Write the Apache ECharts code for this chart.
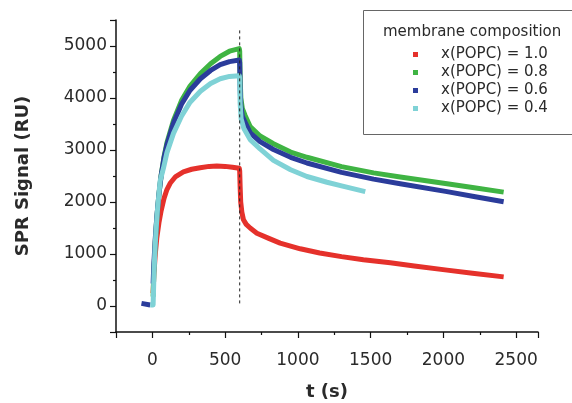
<!DOCTYPE html>
<html>
<head>
<meta charset="utf-8">
<script src="https://cdn.jsdelivr.net/npm/echarts@6/dist/echarts.min.js"></script>
<style>
html,body{margin:0;padding:0;background:#fff;}
#chart{width:572px;height:403px;}
</style>
</head>
<body>
<div id="chart"></div>
<script>
var seriesNames = ['x(POPC) = 1.0', 'x(POPC) = 0.8', 'x(POPC) = 0.6', 'x(POPC) = 0.4'];
var legendTitle = 'membrane composition';
var xTitle = 't (s)';
var yTitle = 'SPR Signal (RU)';

var redT = [5, 10, 20, 30, 45, 60, 80, 100, 122, 160, 213, 270, 328, 390, 443, 500, 550, 597, 600, 603, 607, 615, 626, 645, 672, 718, 800, 878, 1016, 1150, 1300, 1450, 1635, 1800, 2025, 2200, 2414];
var redV = [250, 600, 1000, 1300, 1600, 1830, 2070, 2240, 2360, 2490, 2580, 2630, 2660, 2685, 2690, 2685, 2670, 2650, 2600, 2300, 2000, 1800, 1660, 1570, 1500, 1400, 1300, 1210, 1100, 1020, 950, 890, 830, 770, 690, 630, 560];

var greenT = [5, 10, 20, 30, 45, 60, 80, 100, 145, 200, 259, 330, 400, 466, 530, 597, 600, 603, 608, 618, 638, 672, 740, 832, 950, 1062, 1300, 1520, 1703, 2025, 2200, 2414];
var greenV = [180, 650, 1250, 1680, 2150, 2510, 2870, 3140, 3570, 3950, 4230, 4470, 4660, 4800, 4900, 4950, 4900, 4400, 4000, 3800, 3660, 3450, 3270, 3120, 2960, 2860, 2680, 2560, 2480, 2350, 2280, 2190];

var blueBaseT = [-75, -15];
var blueBaseV = [50, 20];
var blueT = [5, 10, 20, 30, 45, 60, 80, 100, 145, 200, 259, 330, 400, 466, 530, 597, 600, 603, 608, 618, 638, 672, 740, 832, 950, 1062, 1300, 1520, 1703, 2025, 2200, 2414];
var blueV = [430, 800, 1300, 1700, 2150, 2500, 2850, 3100, 3520, 3880, 4150, 4370, 4530, 4640, 4700, 4730, 4680, 4200, 3850, 3650, 3530, 3330, 3160, 3010, 2860, 2750, 2570, 2440, 2350, 2200, 2110, 2005];

var cyanT = [-15, 5, 8, 12, 18, 25, 35, 53, 76, 100, 145, 200, 259, 330, 400, 466, 530, 597, 600, 603, 610, 628, 672, 740, 832, 950, 1062, 1200, 1300, 1463];
var cyanV = [20, 20, 300, 700, 1100, 1450, 1850, 2400, 2650, 2950, 3320, 3650, 3920, 4130, 4280, 4370, 4415, 4430, 4380, 3900, 3600, 3420, 3200, 3020, 2800, 2620, 2490, 2380, 2310, 2200];

var injectionEndT = [600, 600];
var injectionEndV = [50, 5300];

var colors = ['#e5312b', '#3fb443', '#2b3c9b', '#7fd2d6'];

function zip(t, v) { return t.map(function (x, i) { return [x, v[i]]; }); }

var redData = zip(redT, redV);
var greenData = zip(greenT, greenV);
var blueData = zip(blueBaseT, blueBaseV).concat([['-', '-']]).concat(zip(blueT, blueV));
var cyanData = zip(cyanT, cyanV);

var FONT = 'DejaVu Sans';

function curve(name, data, color) {
  return {
    name: name, type: 'line', data: data, showSymbol: false, symbol: 'rect',
    smooth: false, connectNulls: false,
    lineStyle: { color: color, width: 5, cap: 'butt', join: 'round' },
    itemStyle: { color: color },
    animation: false
  };
}

var chart = echarts.init(document.getElementById('chart'), null, { renderer: 'canvas' });
chart.setOption({
  animation: false,
  backgroundColor: '#fff',
  grid: { left: 116, right: 34, top: 20, bottom: 71, containLabel: false, outerBoundsMode: 'none' },
  xAxis: {
    type: 'value', min: -250, max: 2650, splitNumber: 5,
    name: xTitle, nameLocation: 'middle', nameGap: 51,
    nameTextStyle: { fontFamily: FONT, fontSize: 18, fontWeight: 'bold', color: '#2a2a2a' },
    axisLine: { show: true, onZero: false, lineStyle: { color: '#111', width: 1.5 } },
    axisTick: { show: true, inside: false, length: 6, lineStyle: { color: '#111', width: 1.2 } },
    minorTick: { show: true, splitNumber: 2, length: 3, lineStyle: { color: '#111', width: 1.2 } },
    axisLabel: {
      fontFamily: FONT, fontSize: 17, color: '#2a2a2a', margin: 20,
      showMinLabel: false, showMaxLabel: false,
      formatter: function (v) { return (v >= 0 && v % 500 === 0) ? String(v) : ''; }
    },
    splitLine: { show: false }
  },
  yAxis: {
    type: 'value', min: -500, max: 5500, splitNumber: 5,
    name: yTitle, nameLocation: 'middle', nameGap: 84, nameRotate: 90,
    nameTextStyle: { fontFamily: FONT, fontSize: 18, fontWeight: 'bold', color: '#2a2a2a' },
    axisLine: { show: true, onZero: false, lineStyle: { color: '#111', width: 1.5 } },
    axisTick: { show: true, inside: false, length: 6, lineStyle: { color: '#111', width: 1.2 } },
    minorTick: { show: true, splitNumber: 2, length: 3, lineStyle: { color: '#111', width: 1.2 } },
    axisLabel: {
      fontFamily: FONT, fontSize: 17, color: '#2a2a2a', margin: 9,
      showMinLabel: false, showMaxLabel: false,
      formatter: function (v) { return (v >= 0 && v % 1000 === 0) ? String(v) : ''; }
    },
    splitLine: { show: false }
  },
  legend: {
    orient: 'vertical', left: 408, top: 42,
    icon: 'rect', itemWidth: 5, itemHeight: 5, itemGap: 3,
    data: seriesNames,
    textStyle: { fontFamily: FONT, fontSize: 15, color: '#2a2a2a', lineHeight: 15, padding: [0, 0, 0, 18] }
  },
  graphic: [
    { type: 'rect', shape: { x: 363.5, y: 10.5, width: 260, height: 124 },
      style: { fill: '#fff', stroke: '#666', lineWidth: 1 }, z: -1, silent: true },
    { type: 'text', x: 383, y: 32,
      style: { text: legendTitle, fontFamily: FONT, fontSize: 15, fill: '#2a2a2a', verticalAlign: 'middle', align: 'left' }, z: 10 }
  ],
  series: [
    curve(seriesNames[0], redData, colors[0]),
    curve(seriesNames[1], greenData, colors[1]),
    curve(seriesNames[2], blueData, colors[2]),
    curve(seriesNames[3], cyanData, colors[3]),
    {
      name: 'injection end', type: 'line', data: zip(injectionEndT, injectionEndV),
      showSymbol: false, z: 5,
      lineStyle: { color: '#222', width: 1, type: [3, 3] }, animation: false
    }
  ]
});
</script>
</body>
</html>
